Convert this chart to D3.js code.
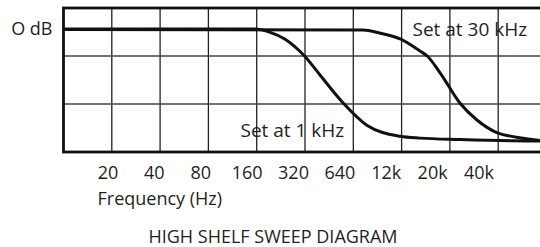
<!DOCTYPE html>
<html>
<head>
<meta charset="utf-8">
<script src="https://cdn.jsdelivr.net/npm/d3@7"></script>
<style>
  body { margin: 0; background: #fff; }
  text { font-family: 'Open Sans', sans-serif; fill: #231f20; }
</style>
</head>
<body>
<div id="chart"></div>
<script>
// x is measured in grid columns (one column per tick step), y in dB
let tickLabels = ['20', '40', '80', '160', '320', '640', '12k', '20k', '40k']

let set1kX = [0, 2, 3.96, 4.28, 4.58, 4.99, 5.31, 5.79, 6.28, 6.97, 7.38, 8.21, 9.87, 10]
let set1kDb = [0, 0, 0, -0.36, -1.08, -2.92, -4.97, -8.0, -10.4, -11.6, -11.8, -11.95, -12.1, -12.1]

let set30kX = [0, 6.2, 6.56, 6.97, 7.38, 7.53, 7.8, 8.21, 8.56, 8.97, 9.38, 9.87, 10]
let set30kDb = [-0.05, -0.1, -0.46, -1.08, -2.38, -2.92, -4.76, -8.03, -9.84, -11.2, -11.7, -12.05, -12.1]

let margin = { top: 8, left: 63.5 }
let width = 483
let height = 144

let svg = d3
  .select('#chart')
  .append('svg')
  .attr('width', 540)
  .attr('height', 247)

let g = svg.append('g').attr('transform', `translate(${margin.left}, ${margin.top})`)

let x = d3.scaleLinear().domain([0, 10]).range([0, width])
let y = d3.scaleLinear().domain([-13.3, 2.27]).range([height, 0])

// grid
g.selectAll('.vgrid')
  .data(d3.range(1, 10))
  .enter()
  .append('line')
  .attr('x1', d => x(d))
  .attr('x2', d => x(d))
  .attr('y1', 0)
  .attr('y2', height)
  .attr('stroke', '#222')
  .attr('stroke-width', 1.3)

g.selectAll('.hgrid')
  .data([1 / 3, 2 / 3])
  .enter()
  .append('line')
  .attr('x1', 0)
  .attr('x2', width)
  .attr('y1', d => d * height)
  .attr('y2', d => d * height)
  .attr('stroke', '#444')
  .attr('stroke-width', 1.3)

g.append('rect')
  .attr('width', width)
  .attr('height', height)
  .attr('fill', 'none')
  .attr('stroke', '#111')
  .attr('stroke-width', 2.8)

// curves
let line = d3
  .line()
  .x(d => x(d[0]))
  .y(d => y(d[1]))
  .curve(d3.curveMonotoneX)

g.append('path')
  .datum(d3.zip(set30kX, set30kDb))
  .attr('d', line)
  .attr('fill', 'none')
  .attr('stroke', '#111')
  .attr('stroke-width', 3)

g.append('path')
  .datum(d3.zip(set1kX, set1kDb))
  .attr('d', line)
  .attr('fill', 'none')
  .attr('stroke', '#111')
  .attr('stroke-width', 3)

// annotations
g.append('text')
  .attr('x', -11)
  .attr('y', y(0) + 6)
  .attr('text-anchor', 'end')
  .style('font-size', '18px')
  .text('O dB')

g.append('text')
  .attr('x', 349)
  .attr('y', 28)
  .style('font-size', '19px')
  .text('Set at 30 kHz')

g.append('text')
  .attr('x', 177)
  .attr('y', 129)
  .style('font-size', '19px')
  .text('Set at 1 kHz')

// tick labels sit a little left of the grid lines
let labelScale = d3.scalePoint().domain(tickLabels).range([108, 479])

svg.selectAll('.tick-label')
  .data(tickLabels)
  .enter()
  .append('text')
  .attr('x', d => labelScale(d))
  .attr('y', 179)
  .attr('text-anchor', 'middle')
  .style('font-size', '18px')
  .text(d => d)

svg.append('text')
  .attr('x', 97.5)
  .attr('y', 205)
  .style('font-size', '18px')
  .text('Frequency (Hz)')

svg.append('text')
  .attr('x', 273)
  .attr('y', 243)
  .attr('text-anchor', 'middle')
  .style('font-size', '18px')
  .text('HIGH SHELF SWEEP DIAGRAM')
</script>
</body>
</html>
